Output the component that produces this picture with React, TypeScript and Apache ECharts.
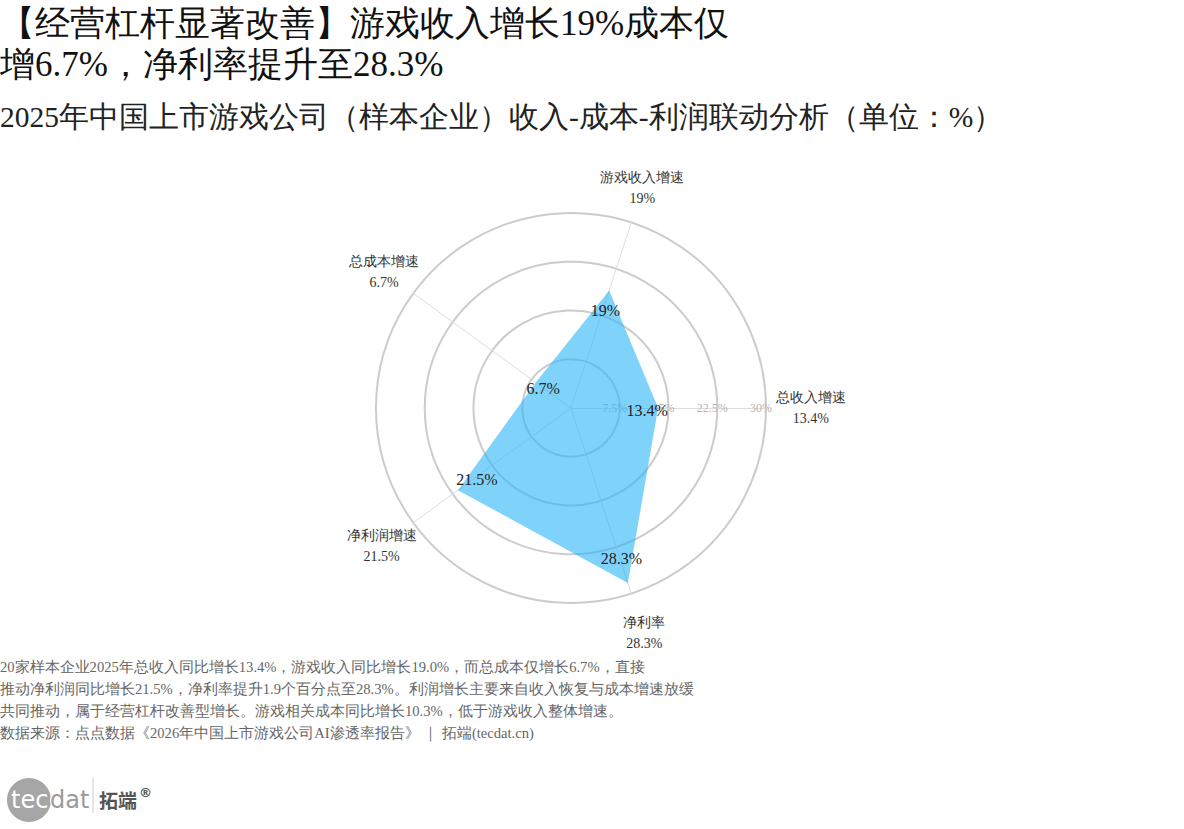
import React, { useEffect, useRef } from 'react';
import * as echarts from 'echarts';

const indicatorNames = ['总收入增速', '游戏收入增速', '总成本增速', '净利润增速', '净利率'];
const indicatorValues = [13.4, 19, 6.7, 21.5, 28.3];
const axisMax = 30;
const splitCount = 4;

const titleText = '【经营杠杆显著改善】游戏收入增长19%成本仅增6.7%，净利率提升至28.3%';
const subtitleText = '2025年中国上市游戏公司（样本企业）收入-成本-利润联动分析（单位：%）';
const noteLines = [
  '20家样本企业2025年总收入同比增长13.4%，游戏收入同比增长19.0%，而总成本仅增长6.7%，直接',
  '推动净利润同比增长21.5%，净利率提升1.9个百分点至28.3%。利润增长主要来自收入恢复与成本增速放缓',
  '共同推动，属于经营杠杆改善型增长。游戏相关成本同比增长10.3%，低于游戏收入整体增速。',
];
const sourceText = '数据来源：点点数据《2026年中国上市游戏公司AI渗透率报告》 ｜ 拓端(tecdat.cn)';

const CX = 571;
const CY = 408;
const R = 195;
const FONT = 'serif';
// per-indicator label distance from the outer ring (layout only)
const NAME_GAPS = [20, 36, 36, 39, 42];

export default function App() {
  const ref = useRef<HTMLDivElement>(null);
  useEffect(() => {
    if (!ref.current) return;
    const chart = echarts.init(ref.current, undefined, { renderer: 'svg' });
    const option: any = {
      animation: false,
      backgroundColor: '#ffffff',
      title: [
        {
          text: titleText,
          left: 0,
          top: 3,
          padding: 0,
          textStyle: {
            fontSize: 35,
            fontWeight: 'normal',
            color: '#111',
            fontFamily: FONT,
            width: 745,
            overflow: 'break',
            lineHeight: 41,
          },
        },
        {
          text: subtitleText,
          left: 0,
          top: 102,
          padding: 0,
          textStyle: { fontSize: 29.5, fontWeight: 'normal', color: '#222', fontFamily: FONT },
        },
        {
          text: noteLines.join('\n') + '\n' + sourceText,
          left: 0,
          top: 656,
          padding: 0,
          textStyle: { fontSize: 14.6, fontWeight: 'normal', color: '#666', fontFamily: FONT, lineHeight: 22 },
        },
      ],
      radar: {
        center: [CX, CY],
        radius: R,
        startAngle: 0,
        shape: 'circle',
        splitNumber: splitCount,
        nameGap: 30,
        indicator: indicatorNames.map((n, i) => {
          const ind: any = { name: n, min: 0, max: axisMax, nameGap: NAME_GAPS[i] };
          if (i === 0) {
            ind.axisLabel = {
              show: true,
              formatter: '{value}%',
              color: '#b5b5b5',
              fontSize: 12,
              fontFamily: FONT,
              showMinLabel: false,
              margin: 0,
              align: 'center',
              verticalAlign: 'middle',
              padding: [0, 10, 0, 0],
            };
          }
          return ind;
        }),
        axisName: {
          formatter: (name: string) => {
            const idx = indicatorNames.indexOf(name);
            return name + '\n' + indicatorValues[idx] + '%';
          },
          color: '#333',
          fontSize: 14,
          lineHeight: 21,
          fontFamily: FONT,
          align: 'center',
        },
        splitLine: { lineStyle: { color: '#cccccc', width: 2 } },
        splitArea: { show: false },
        axisLine: { lineStyle: { color: '#dddddd', width: 1 } },
        axisTick: { show: false },
        axisLabel: { show: false },
      },
      series: [
        {
          type: 'radar',
          symbol: 'circle',
          symbolSize: 2,
          itemStyle: { color: 'transparent' },
          lineStyle: { width: 0, color: 'transparent' },
          areaStyle: { color: '#29B6F6', opacity: 0.6 },
          label: {
            show: true,
            formatter: (p: any) => p.value + '%',
            fontSize: 16,
            color: '#222',
            fontFamily: FONT,
          },
          labelLayout: (params: any) => {
            const r = params.rect;
            const px = r.x + r.width / 2;
            const py = r.y + r.height / 2;
            return {
              x: px + (CX - px) * 0.15 + 2,
              y: py + (CY - py) * 0.15 + 2,
              align: 'center',
              verticalAlign: 'middle',
            };
          },
          data: [{ value: indicatorValues, name: '2025' }],
        },
      ],
      graphic: [
        { type: 'circle', shape: { cx: 29, cy: 800, r: 22 }, style: { fill: '#a6a6a6' } },
        { type: 'circle', shape: { cx: 60, cy: 800, r: 10 }, style: { fill: '#ffffff' } },
        {
          type: 'text',
          x: 11,
          y: 800,
          style: { text: 'tec', fill: '#ffffff', font: '24px "DejaVu Sans", sans-serif', textVerticalAlign: 'middle' },
        },
        {
          type: 'text',
          x: 50,
          y: 800,
          style: { text: 'dat', fill: '#9a9a9a', font: '24px "DejaVu Sans", sans-serif', textVerticalAlign: 'middle' },
        },
        { type: 'line', shape: { x1: 93, y1: 778, x2: 93, y2: 813 }, style: { stroke: '#cccccc', lineWidth: 1 } },
        {
          type: 'text',
          x: 99,
          y: 799,
          style: { text: '拓端', fill: '#555555', font: 'bold 19px "Noto Sans CJK SC", sans-serif', textVerticalAlign: 'middle' },
        },
        {
          type: 'text',
          x: 139,
          y: 792,
          style: { text: '®', fill: '#555555', font: 'bold 13px "DejaVu Sans", sans-serif', textVerticalAlign: 'middle' },
        },
      ],
    };
    chart.setOption(option);
    return () => chart.dispose();
  }, []);
  return (
    <div
      ref={ref}
      style={{ position: 'absolute', left: 0, top: 0, width: 1184, height: 829, background: '#fff' }}
    />
  );
}
